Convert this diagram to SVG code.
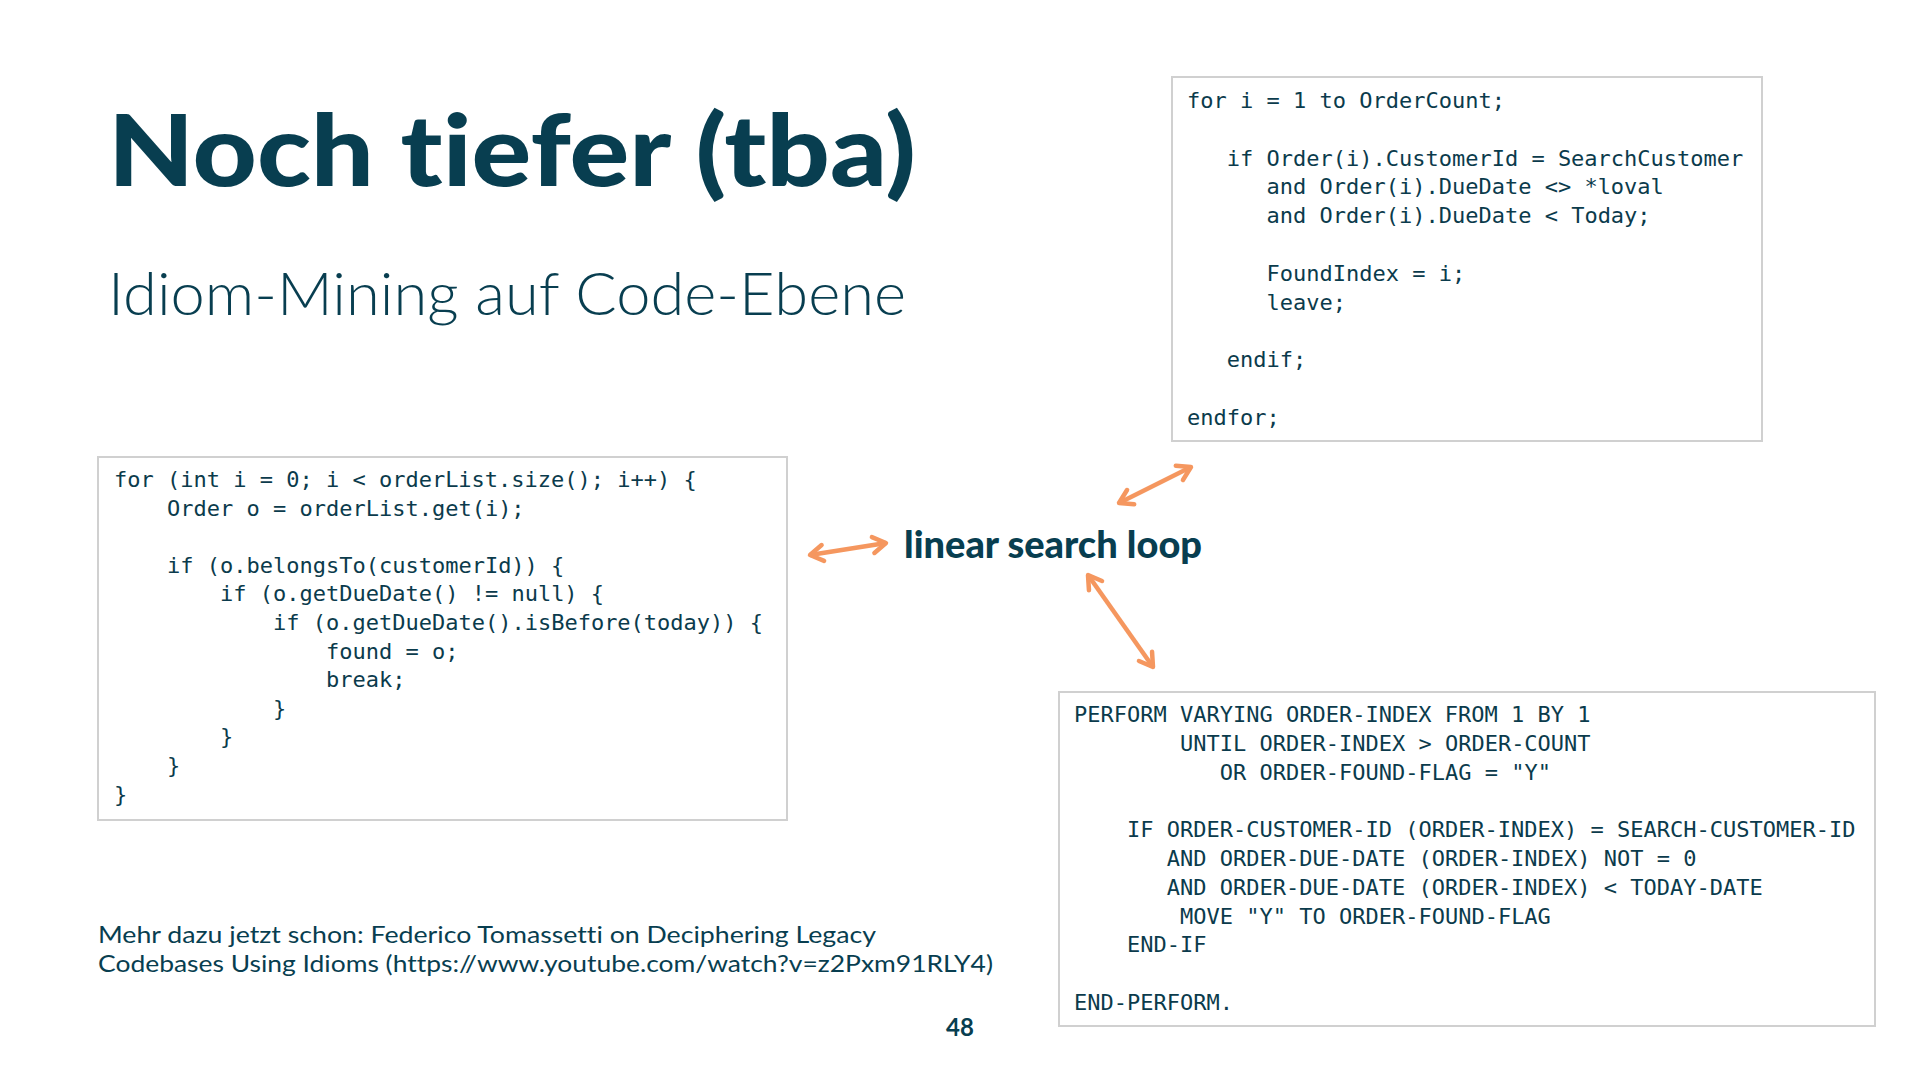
<svg xmlns="http://www.w3.org/2000/svg" width="1920" height="1080" viewBox="0 0 1920 1080">
<defs>
<style>
text{font-variant-ligatures:none;font-feature-settings:"liga" 0,"clig" 0}
.bg{fill:#ffffff}
.box{fill:#ffffff;stroke:#d0d0d0;stroke-width:2}
.code{font-family:"DejaVu Sans Mono","Liberation Mono",monospace;font-size:22px;fill:#0b3b4c}
.title{font-family:Lato,"Noto Sans",sans-serif;font-weight:900;font-size:100px;fill:#083e50}
.sub{font-family:Lato,"Noto Sans",sans-serif;font-weight:300;font-size:60px;fill:#083e50}
.label{font-family:Lato,"Noto Sans",sans-serif;font-weight:900;font-size:37px;fill:#083e50}
.foot{font-family:Lato,"Noto Sans",sans-serif;font-weight:400;font-size:24px;fill:#083e50}
.num{font-family:Lato,"Noto Sans",sans-serif;font-weight:700;font-size:24px;fill:#083e50}
.arrow{stroke:#f5975f;stroke-width:4.5;fill:none;marker-start:url(#head);marker-end:url(#head)}
</style>
<marker id="head" viewBox="0 0 20 20" markerWidth="20" markerHeight="20" refX="18" refY="10" markerUnits="userSpaceOnUse" orient="auto-start-reverse" overflow="visible">
<path d="M5,2 L18,10 L5,18" fill="none" stroke="#f5975f" stroke-width="4.5" stroke-linecap="round" stroke-linejoin="round"/>
</marker>
</defs>
<rect class="bg" x="0" y="0" width="1920" height="1080"/>

<g id="title">
<text class="title" x="108" y="186" textLength="808" lengthAdjust="spacingAndGlyphs">Noch tiefer (tba)</text>
<text class="sub" x="108" y="315" textLength="798" lengthAdjust="spacingAndGlyphs">Idiom-Mining auf Code-Ebene</text>
</g>

<g id="rpg-code">
<rect class="box" x="1172" y="77" width="590" height="364"/>
<text class="code" x="1187" y="108">for i = 1 to OrderCount;</text>
<text class="code" x="1226.75" y="165.6">if Order(i).CustomerId = SearchCustomer</text>
<text class="code" x="1266.5" y="194.4">and Order(i).DueDate &lt;&gt; *loval</text>
<text class="code" x="1266.5" y="223.2">and Order(i).DueDate &lt; Today;</text>
<text class="code" x="1266.5" y="280.8">FoundIndex = i;</text>
<text class="code" x="1266.5" y="309.6">leave;</text>
<text class="code" x="1226.75" y="367.2">endif;</text>
<text class="code" x="1187" y="424.8">endfor;</text>
</g>

<g id="java-code">
<rect class="box" x="98" y="457" width="689" height="363"/>
<text class="code" x="114" y="487">for (int i = 0; i &lt; orderList.size(); i++) {</text>
<text class="code" x="167" y="515.6">Order o = orderList.get(i);</text>
<text class="code" x="167" y="572.8">if (o.belongsTo(customerId)) {</text>
<text class="code" x="220" y="601.4">if (o.getDueDate() != null) {</text>
<text class="code" x="273" y="630">if (o.getDueDate().isBefore(today)) {</text>
<text class="code" x="326" y="658.6">found = o;</text>
<text class="code" x="326" y="687.2">break;</text>
<text class="code" x="273" y="715.8">}</text>
<text class="code" x="220" y="744.4">}</text>
<text class="code" x="167" y="773">}</text>
<text class="code" x="114" y="801.6">}</text>
</g>

<g id="cobol-code">
<rect class="box" x="1059" y="692" width="816" height="334"/>
<text class="code" x="1074" y="722">PERFORM VARYING ORDER-INDEX FROM 1 BY 1</text>
<text class="code" x="1180" y="750.8">UNTIL ORDER-INDEX &gt; ORDER-COUNT</text>
<text class="code" x="1219.75" y="779.6">OR ORDER-FOUND-FLAG = "Y"</text>
<text class="code" x="1127" y="837.2">IF ORDER-CUSTOMER-ID (ORDER-INDEX) = SEARCH-CUSTOMER-ID</text>
<text class="code" x="1166.75" y="866">AND ORDER-DUE-DATE (ORDER-INDEX) NOT = 0</text>
<text class="code" x="1166.75" y="894.8">AND ORDER-DUE-DATE (ORDER-INDEX) &lt; TODAY-DATE</text>
<text class="code" x="1180" y="923.6">MOVE "Y" TO ORDER-FOUND-FLAG</text>
<text class="code" x="1127" y="952.4">END-IF</text>
<text class="code" x="1074" y="1010">END-PERFORM.</text>
</g>

<g id="center-label">
<text class="label" x="904" y="558" textLength="298" lengthAdjust="spacingAndGlyphs">linear search loop</text>
</g>

<g id="connectors">
<line class="arrow" x1="810" y1="555" x2="886" y2="543"/>
<line class="arrow" x1="1119" y1="503" x2="1191" y2="467"/>
<line class="arrow" x1="1088" y1="575" x2="1153" y2="667"/>
</g>

<g id="footer">
<text class="foot" x="98" y="943" textLength="778" lengthAdjust="spacingAndGlyphs">Mehr dazu jetzt schon: Federico Tomassetti on Deciphering Legacy</text>
<text class="foot" x="98" y="972" textLength="895" lengthAdjust="spacingAndGlyphs">Codebases Using Idioms (https://www.youtube.com/watch?v=z2Pxm91RLY4)</text>
<text class="num" x="960" y="1036" text-anchor="middle">48</text>
</g>
</svg>
